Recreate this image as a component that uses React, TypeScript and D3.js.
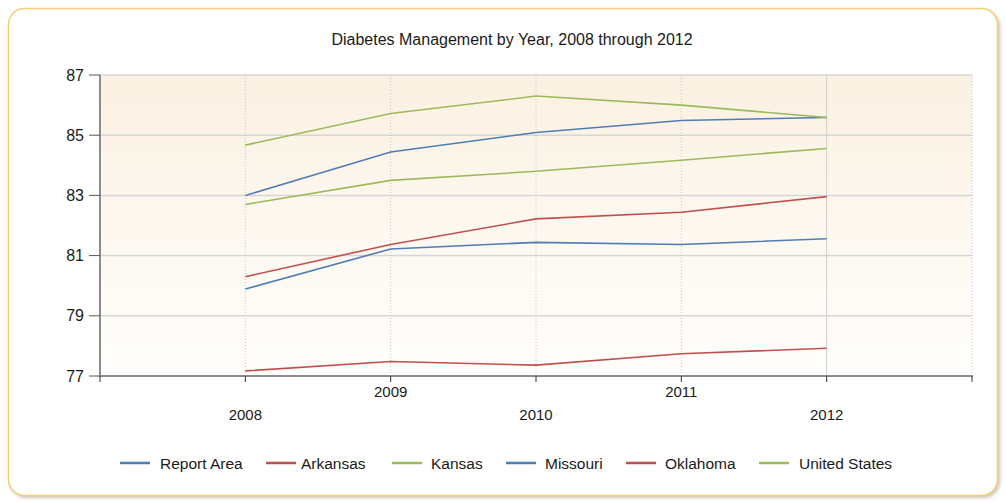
import React from "react";
import * as d3 from "d3";

const years = [2008, 2009, 2010, 2011, 2012];
const seriesNames = ["Report Area", "Arkansas", "Kansas", "Missouri", "Oklahoma", "United States"];
const reportArea = [83.0, 84.44, 85.09, 85.49, 85.59];
const arkansas = [77.17, 77.48, 77.36, 77.74, 77.92];
const kansas = [84.67, 85.72, 86.3, 86.0, 85.59];
const missouri = [79.89, 81.22, 81.44, 81.37, 81.56];
const oklahoma = [80.3, 81.37, 82.22, 82.44, 82.96];
const unitedStates = [82.7, 83.5, 83.8, 84.17, 84.56];
const yTicks = [77, 79, 81, 83, 85, 87];
const title = "Diabetes Management by Year, 2008 through 2012";

const colors = ["#4f7db5", "#c0504d", "#9bbb59", "#4f7db5", "#c0504d", "#9bbb59"];
const allValues = [reportArea, arkansas, kansas, missouri, oklahoma, unitedStates];

const W = 1006;
const H = 503;
const left = 100, right = 972, top = 75, bottom = 376;
const font = "'Liberation Sans', Arial, sans-serif";

export default function App() {
  const x = d3.scaleLinear().domain([2007, 2013]).range([left, right]);
  const y = d3.scaleLinear().domain([77, 87]).range([bottom, top]);
  const line = d3
    .line<number>()
    .x((_, i) => x(years[i]))
    .y((d) => y(d));
  const xTickAll = d3.range(2007, 2014);

  const legendItems = [
    { sw: 120, tx: 160 },
    { sw: 266, tx: 301 },
    { sw: 392, tx: 431 },
    { sw: 506, tx: 545 },
    { sw: 626, tx: 665 },
    { sw: 759, tx: 799 },
  ];

  return (
    <svg
      width={W}
      height={H}
      style={{ position: "absolute", left: 0, top: 0, display: "block" }}
      fontFamily={font}
    >
      <defs>
        <linearGradient id="bg" x1="0" y1="0" x2="0" y2="1">
          <stop offset="0" stopColor="#fbf1e2" />
          <stop offset="1" stopColor="#fffefc" />
        </linearGradient>
        <filter id="sh" x="-5%" y="-5%" width="110%" height="110%">
          <feDropShadow dx="2" dy="2" stdDeviation="1.5" floodColor="#9a8a70" floodOpacity="0.45" />
        </filter>
      </defs>
      <rect x={0} y={0} width={W} height={H} fill="#ffffff" />
      <rect
        x={8.5}
        y={8.5}
        width={989}
        height={487}
        rx={16}
        ry={16}
        fill="#ffffff"
        stroke="#f2cd72"
        strokeWidth={1.5}
        filter="url(#sh)"
      />
      <text x={512} y={45} textAnchor="middle" fontSize={16} fill="#1a1a1a">
        {title}
      </text>
      <rect x={left} y={top} width={right - left} height={bottom - top} fill="url(#bg)" />
      {yTicks.slice(1, -1).map((t) => (
        <line key={"h" + t} x1={left} x2={right} y1={y(t)} y2={y(t)} stroke="#d6d6d6" strokeWidth={1.5} />
      ))}
      <line x1={left} x2={right} y1={y(87)} y2={y(87)} stroke="#d6d6d6" strokeWidth={1.5} />
      {xTickAll.slice(1).map((t) => (
        <line
          key={"v" + t}
          x1={x(t)}
          x2={x(t)}
          y1={top}
          y2={bottom}
          stroke={t === 2012 ? "#cfcfcf" : "#c4c4c4"}
          strokeWidth={1}
          strokeDasharray={t === 2012 ? undefined : "1,2"}
        />
      ))}
      {allValues.map((vals, i) => (
        <path key={seriesNames[i]} d={line(vals) || ""} fill="none" stroke={colors[i]} strokeWidth={1.6} />
      ))}
      <line x1={left} x2={left} y1={top} y2={bottom + 1} stroke="#8c8c8c" strokeWidth={2} />
      <line x1={left - 1} x2={right + 1} y1={bottom} y2={bottom} stroke="#8c8c8c" strokeWidth={2} />
      {yTicks.map((t) => (
        <g key={"yt" + t}>
          <line x1={left - 11} x2={left} y1={y(t)} y2={y(t)} stroke="#555" strokeWidth={1} />
          <text x={left - 16} y={y(t) + 5.5} textAnchor="end" fontSize={16} fill="#1a1a1a">
            {t}
          </text>
        </g>
      ))}
      {xTickAll.map((t) => (
        <line key={"xt" + t} x1={x(t)} x2={x(t)} y1={bottom} y2={bottom + 6} stroke="#333" strokeWidth={1} />
      ))}
      {years.map((t, i) => (
        <text
          key={"xl" + t}
          x={x(t)}
          y={i % 2 === 1 ? 397 : 420}
          textAnchor="middle"
          fontSize={15}
          fill="#1a1a1a"
        >
          {t}
        </text>
      ))}
      {seriesNames.map((n, i) => (
        <g key={"lg" + n}>
          <line x1={legendItems[i].sw} x2={legendItems[i].sw + 30} y1={463} y2={463} stroke={colors[i]} strokeWidth={2.5} />
          <text x={legendItems[i].tx} y={468.5} fontSize={15.5} fill="#1a1a1a">
            {n}
          </text>
        </g>
      ))}
    </svg>
  );
}
